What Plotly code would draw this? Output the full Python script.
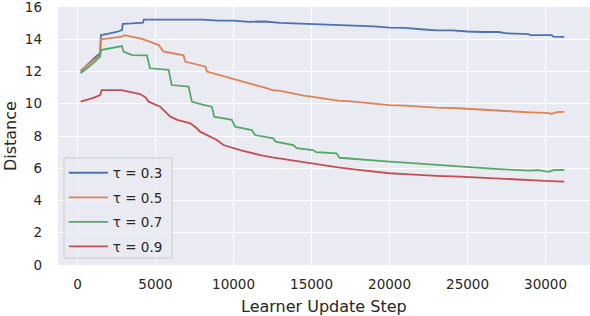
import plotly.graph_objects as go

# ---- data ----
blue_x = [200, 500, 800, 1100, 1450, 1500, 2000, 2500, 2850, 2900, 3500, 4200, 4250, 5000, 6000, 7000, 8000, 9000,
          10000, 11000, 12000, 13000, 14000, 15000, 16000, 17000, 18000, 19000, 20000, 21000, 22000, 23000, 24000,
          24500, 25000, 26000, 27000, 27500, 28000, 28900, 29000, 30000, 30400, 30500, 31200]
blue_y = [12.0, 12.3, 12.6, 12.85, 13.13, 14.26, 14.35, 14.45, 14.57, 14.95, 14.98, 15.03, 15.22, 15.22, 15.23, 15.2, 15.22, 15.15,
          15.15, 15.08, 15.1, 15.02, 14.98, 14.98, 14.9, 14.88, 14.82, 14.8, 14.72, 14.7, 14.62, 14.55, 14.55,
          14.5, 14.48, 14.45, 14.45, 14.37, 14.35, 14.32, 14.26, 14.25, 14.25, 14.16, 14.15]

orange_x = [200, 500, 800, 1100, 1450, 1500, 2000, 2500, 2850, 3000, 3500, 4000, 4500, 5200, 5500, 6000, 6800, 6900,
            7800, 8200, 8300, 9000, 9800, 10500, 11000, 12000, 12500, 13000, 13800, 14500, 15300, 16000, 16700,
            17500, 18000, 19000, 20000, 21000, 22000, 23000, 24400, 25000, 26000, 27000, 28000, 29000, 30000,
            30400, 30700, 31200]
orange_y = [12.05, 12.3, 12.5, 12.75, 13.0, 14.0, 14.05, 14.1, 14.16, 14.25, 14.15, 14.06, 13.9, 13.64, 13.25, 13.15, 13.0, 12.62,
            12.4, 12.3, 12.0, 11.8, 11.58, 11.4, 11.27, 11.0, 10.85, 10.8, 10.65, 10.5, 10.4, 10.3, 10.19,
            10.15, 10.1, 10.02, 9.92, 9.88, 9.8, 9.76, 9.72, 9.68, 9.62, 9.58, 9.52, 9.47, 9.44,
            9.38, 9.48, 9.5]

green_x = [200, 500, 800, 1100, 1450, 1500, 2000, 2500, 2850, 2950, 3500, 4450, 4640, 5840, 6040, 7120, 7330, 8000,
           8610, 8760, 9890, 10100, 11170, 11380, 12550, 12700, 13830, 14040, 15100, 15300, 16600, 16800, 18000,
           19000, 20000, 21000, 22000, 23000, 24000, 24500, 25000, 26000, 27000, 28000, 29000, 29500,
           30000, 30200, 30500, 31200]
green_y = [11.89, 12.1, 12.35, 12.6, 12.92, 13.33, 13.42, 13.5, 13.58, 13.23, 13.02, 13.0, 12.2, 12.1, 11.16, 11.06, 10.13, 9.95,
           9.82, 9.2, 9.0, 8.58, 8.37, 8.06, 7.85, 7.65, 7.44, 7.24, 7.13, 7.0, 6.93, 6.65, 6.55,
           6.5, 6.41, 6.35, 6.28, 6.2, 6.15, 6.1, 6.05, 6.0, 5.95, 5.9, 5.85, 5.88,
           5.8, 5.78, 5.88, 5.89]

red_x = [200, 500, 800, 1100, 1450, 1550, 2000, 2500, 2800, 3500, 4000, 4350, 4560, 5300, 5950, 6400, 7230, 7650,
         7860, 8930, 9360, 10420, 11700, 12500, 13600, 14500, 15750, 16700, 18000, 19000, 20000,
         21000, 22000, 23000, 24500, 26000, 27000, 28000, 29000, 30000, 31200]
red_y = [10.13, 10.2, 10.3, 10.4, 10.54, 10.85, 10.85, 10.84, 10.85, 10.7, 10.6, 10.4, 10.13, 9.82, 9.2, 9.0, 8.79, 8.48,
         8.27, 7.75, 7.44, 7.13, 6.82, 6.68, 6.51, 6.38, 6.2, 6.06, 5.9, 5.8, 5.69,
         5.64, 5.58, 5.53, 5.48, 5.4, 5.35, 5.31, 5.27, 5.22, 5.17]

names = ["τ = 0.3", "τ = 0.5", "τ = 0.7", "τ = 0.9"]
colors = ["#4C72B0", "#DD8452", "#55A868", "#C44E52"]
x_ticks = [0, 5000, 10000, 15000, 20000, 25000, 30000]
y_ticks = [0, 2, 4, 6, 8, 10, 12, 14, 16]
x_title = "Learner Update Step"
y_title = "Distance"

series = [(blue_x, blue_y), (orange_x, orange_y), (green_x, green_y), (red_x, red_y)]

fig = go.Figure()
for i, ((xs, ys), name, c) in enumerate(zip(series, names, colors)):
    fig.add_trace(go.Scatter(x=xs, y=ys, mode="lines", name=name, legendgroup=str(i),
                             line=dict(color=c, width=1.8)))

font = "DejaVu Sans"
fig.update_layout(
    width=590, height=316,
    margin=dict(l=58, r=0, t=7, b=51, autoexpand=False),
    paper_bgcolor="white", plot_bgcolor="#EAEAF2",
    font=dict(family=font, color="#262626", size=13.5),
    showlegend=True,
    legend=dict(x=0.011, y=0.0097, xanchor="left", yanchor="bottom",
                bgcolor="rgba(0,0,0,0)", borderwidth=0,
                font=dict(size=13.5, family=font, color="#262626"), tracegroupgap=4,
                itemwidth=39),
    xaxis=dict(range=[-1250, 32850], tickvals=x_ticks, ticktext=[str(v) for v in x_ticks],
               showgrid=True, gridcolor="white", gridwidth=1, zeroline=False, showline=False,
               ticks="", ticklabelstandoff=9, automargin=False, ticklabeloverflow="allow",
               tickfont=dict(size=13.5)),
    yaxis=dict(range=[0, 16], tickvals=y_ticks, ticktext=[str(v) for v in y_ticks],
               showgrid=True, gridcolor="white", gridwidth=1, zeroline=False, showline=False,
               ticks="", ticklabelstandoff=15, automargin=False, ticklabeloverflow="allow",
               tickfont=dict(size=13.5)),
    shapes=[
        dict(type="rect", xref="paper", yref="paper", x0=0.0113, x1=0.2143, y0=0.0271, y1=0.4147,
             fillcolor="rgba(234,234,242,0.8)", line=dict(color="#CCCCCC", width=1), layer="above"),
    ],
    annotations=[
        dict(text=x_title, xref="paper", yref="paper", x=0.5, y=-0.118, xanchor="center", yanchor="top",
             showarrow=False, font=dict(size=16, family=font, color="#262626")),
        dict(text=y_title, xref="paper", yref="paper", x=-0.09, y=0.5, xanchor="center", yanchor="middle",
             textangle=-90, showarrow=False, font=dict(size=16, family=font, color="#262626")),
    ],
)

fig.write_html("out.html", config={"displayModeBar": False},
               post_script="document.body.style.margin='0';document.body.style.overflow='hidden';")
